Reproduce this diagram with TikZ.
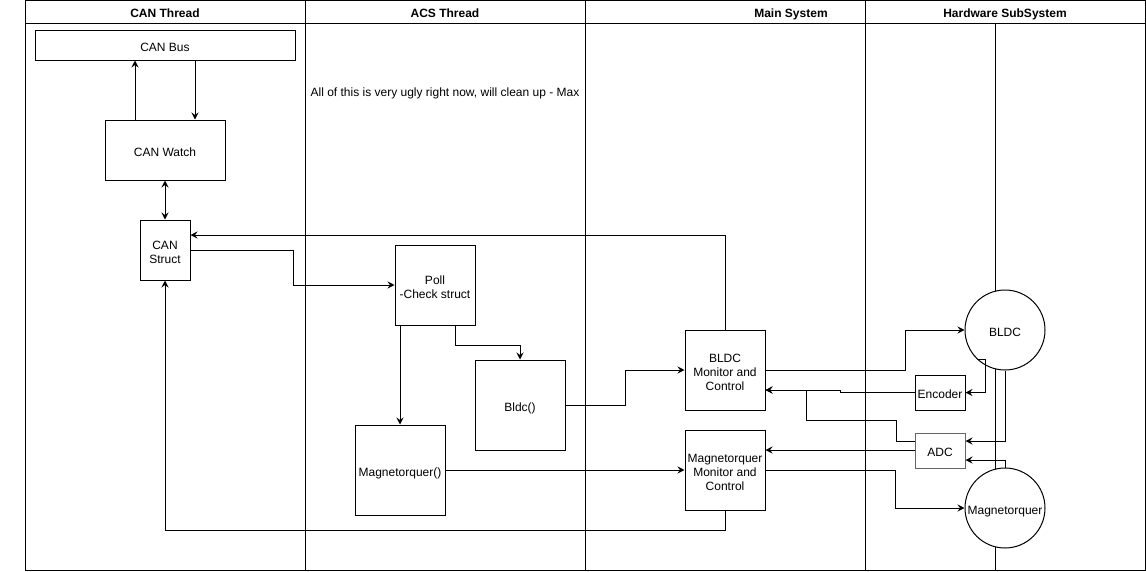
\documentclass[tikz,border=0pt]{standalone}
\usepackage{fontspec}
\setmainfont{Liberation Sans}
\usetikzlibrary{arrows.meta}
\newcommand\tx[1]{\raisebox{0pt}[\dimexpr\height+7pt\relax][\depth]{\begin{tabular}{@{}c@{}}#1\end{tabular}}}
\begin{document}
\begin{tikzpicture}[x=1pt,y=-1pt,line width=1pt,
  lab/.style={font=\fontsize{12}{14}\selectfont},
  head/.style={font=\bfseries\fontsize{12}{14}\selectfont},
  box/.style={draw,fill=white,inner sep=0pt,lab},
  circ/.style={draw,fill=white,circle,minimum size=80pt,inner sep=0pt,lab},
  tip/.tip={Stealth[length=7pt,width=7pt,inset=2.5pt]},
  arr/.style={-tip},
  darr/.style={tip-tip}]
\useasboundingbox (0,0) rectangle (1146,571);
% swimlanes
\draw (25.5,0.5) rectangle (1145,570.5);
\draw (25.5,23.5) -- (1145,23.5);
\draw (305.5,0.5) -- (305.5,570.5);
\draw (585.5,0.5) -- (585.5,570.5);
\draw (865.5,0.5) -- (865.5,570.5);
\draw (995.5,23.5) -- (995.5,570.5);
\node[head] (hcan) at (165,11) {\tx{CAN Thread}};
\node[head] (hacs) at (445,11) {\tx{ACS Thread}};
\node[head] (hmain) at (791,11) {\tx{Main System}};
\node[head] (hhw) at (1005,11) {\tx{Hardware SubSystem}};
\node[lab] (note) at (445,90) {\tx{All of this is very ugly right now, will clean up - Max}};
% nodes
\node[box,minimum width=260pt,minimum height=30pt] (bus) at (165,45) {\tx{CAN Bus}};
\node[box,minimum width=120pt,minimum height=60pt] (watch) at (165,150) {\tx{CAN Watch}};
\node[box,minimum width=50pt,minimum height=60pt] (struct) at (165,250) {\tx{CAN\\Struct}};
\node[box,minimum width=80pt,minimum height=80pt] (poll) at (435,285) {\tx{Poll\\-Check struct}};
\node[box,minimum width=90pt,minimum height=90pt] (bldcf) at (520,405) {\tx{Bldc()}};
\node[box,minimum width=90pt,minimum height=90pt] (magf) at (400,470) {\tx{Magnetorquer()}};
\node[box,minimum width=80pt,minimum height=80pt] (bmc) at (725,370) {\tx{BLDC\\Monitor and\\Control}};
\node[box,minimum width=80pt,minimum height=80pt] (mmc) at (725,470) {\tx{Magnetorquer\\Monitor and\\Control}};
\node[circ] (bldcm) at (1005,330) {\tx{BLDC}};
\node[circ] (magc) at (1005,508) {\tx{Magnetorquer}};
\node[box,minimum width=50pt,minimum height=35pt] (enc) at (940,392.5) {\tx{Encoder}};
\node[box,minimum width=50pt,minimum height=35pt,draw=black!60] (adc) at (940,450.5) {\tx{ADC}};
% connectors
\draw[arr] (watch.north -| 135,0) -- (bus.south -| 135,0);
\draw[arr] (bus.south -| 195,0) -- (watch.north -| 195,0);
\draw[darr] (watch.south) -- (struct.north);
\draw[arr] (bmc.north) |- (struct.east |- 0,235);
\draw[arr] (struct.east) -| (poll.west -| 293,0) -- (poll.west);
\draw[arr] (poll.south -| 455,0) -- (455,345) -| (bldcf.north);
\draw[arr] (poll.south -| 400,0) -- (magf.north -| 400,0);
\draw[arr] (bldcf.east) -| (bmc.west -| 625,0) -- (bmc.west);
\draw[arr] (magf.east) -- (mmc.west);
\draw[arr] (mmc.south) -- (725,530) -| (struct.south);
\draw[arr] (bmc.east) -| (bldcm.west -| 905,0) -- (bldcm.west);
\draw[arr] (enc.west) -- (840,392.5) -- (840,390) -- (bmc.east |- 0,390);
\draw[arr] (adc.west |- 0,441.5) -- (896,441.5) |- (806,420) -- (806,390) -- (bmc.east |- 0,390);
\draw[arr] (adc.west |- 0,450) -- (mmc.east |- 0,450);
\draw[arr] (mmc.east) -| (magc.west -| 895,0) -- (magc.west);
\draw[arr] (bldcm.226) -| (enc.east -| 985,0) -- (enc.east);
\draw[arr] (bldcm.south) |- (adc.east |- 0,441);
\draw[arr] (magc.north) |- (adc.east |- 0,460);
\end{tikzpicture}
\end{document}
